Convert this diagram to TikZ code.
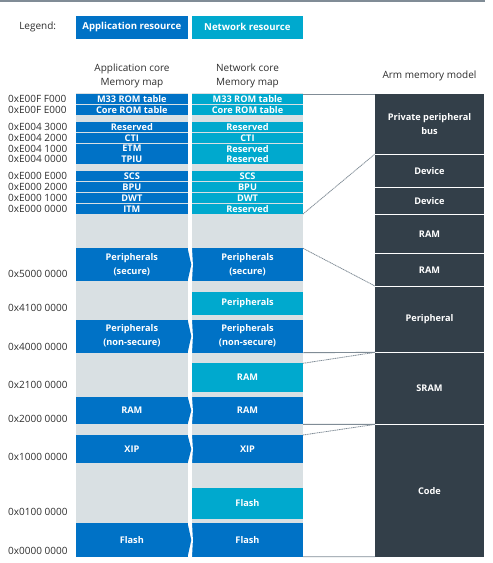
\documentclass[tikz,border=0pt]{standalone}
\usepackage{fontspec}
\usetikzlibrary{calc}
\setmainfont{Open Sans}
\definecolor{appblue}{RGB}{0,114,198}
\definecolor{netblue}{RGB}{0,169,206}
\definecolor{bggray}{RGB}{217,224,227}
\definecolor{armdark}{RGB}{51,63,73}
\definecolor{linegray}{RGB}{128,140,150}
\definecolor{txt}{RGB}{45,45,45}
\tikzset{
  blk/.style={inner sep=0pt, outer sep=0pt, text=white, align=center,
    font=\fontsize{9.2}{14}\selectfont\bfseries},
  addr/.style={anchor=west, inner sep=0pt, text=txt, font=\fontsize{10}{12}\selectfont},
  head/.style={inner sep=0pt, text=txt, align=center, font=\fontsize{10}{14}\selectfont},
  solidlink/.style={draw=linegray, line width=0.9pt},
  dashlink/.style={draw=linegray, line width=0.8pt, dash pattern=on 1.2pt off 0.6pt},
}
% name, x1, y1, x2, y2, colour, text
\newcommand\rbox[7]{\node[blk, fill=#6, minimum width={#4-#2}, minimum height={#5-#3}] (#1) at ({(#2+#4)/2},{(#3+#5)/2}) {#7};}
% app+net chevron pair: appname, netname, y1, y2, text
\newcommand\pairbox[5]{%
  \rbox{#2}{192}{#3}{303}{#4}{appblue}{#5}
  \fill[white] (192,#3) -- (192.9,{(#3+#4)/2}) -- (192,#4) -- cycle;
  \rbox{#1}{76}{#3}{187.7}{#4}{appblue}{#5}
  \fill[appblue] (187.6,#3) -- (191.3,{(#3+#4)/2}) -- (187.6,#4) -- cycle;
}
\begin{document}
\begin{tikzpicture}[x=1pt,y=-1pt]
\useasboundingbox (0,0) rectangle (493,563);
% top rule
\coordinate (tl) at (0,0.8);
\coordinate (tr) at (485,0.8);
\draw[linegray, line width=1.6pt] (tl) -- (tr);
% legend
\node[head, anchor=center] (leg) at (37.7,27) {Legend:};
\rbox{legapp}{76}{16}{187.7}{38.7}{appblue}{\fontsize{9.6}{12}\selectfont\bfseries Application resource}
\rbox{legnet}{192}{16}{302.7}{38.7}{netblue}{\fontsize{9.6}{12}\selectfont\bfseries Network resource}
% headers
\node[head] (happ) at (132,76.3) {Application core\\Memory map};
\node[head] (hnet) at (247.5,76.3) {Network core\\Memory map};
\node[head] (harm) at (429.5,75.7) {Arm memory model};
% gray backgrounds
\fill[bggray] (76,93) rectangle (187.7,556.7);
\fill[bggray] (192,93) rectangle (303,556.7);
% small rows
\rbox{aM33}{76}{94}{187.7}{104.3}{appblue}{M33 ROM table}
\rbox{nM33}{192}{94}{303}{104.3}{netblue}{M33 ROM table}
\rbox{aCore}{76}{105.1}{187.7}{115.3}{appblue}{Core ROM table}
\rbox{nCore}{192}{105.1}{303}{115.3}{netblue}{Core ROM table}
\rbox{aRes}{76}{122}{187.7}{132.2}{appblue}{Reserved}
\rbox{nRes}{192}{122}{303}{132.2}{netblue}{Reserved}
\rbox{aCTI}{76}{133}{187.7}{143}{appblue}{CTI}
\rbox{nCTI}{192}{133}{303}{143}{netblue}{CTI}
\rbox{aETM}{76}{143.7}{187.7}{153.6}{appblue}{ETM}
\rbox{nETM}{192}{143.7}{303}{153.6}{netblue}{Reserved}
\rbox{aTPIU}{76}{154.3}{187.7}{164.4}{appblue}{TPIU}
\rbox{nTPIU}{192}{154.3}{303}{164.4}{netblue}{Reserved}
\rbox{aSCS}{76}{171}{187.7}{181.1}{appblue}{SCS}
\rbox{nSCS}{192}{171}{303}{181.1}{netblue}{SCS}
\rbox{aBPU}{76}{181.9}{187.7}{192}{appblue}{BPU}
\rbox{nBPU}{192}{181.9}{303}{192}{netblue}{BPU}
\rbox{aDWT}{76}{192.8}{187.7}{202.9}{appblue}{DWT}
\rbox{nDWT}{192}{192.8}{303}{202.9}{netblue}{DWT}
\rbox{aITM}{76}{203.7}{187.7}{214}{appblue}{ITM}
\rbox{nITM}{192}{203.7}{303}{214}{netblue}{Reserved}
% big blocks
\pairbox{aPerS}{nPerS}{248.3}{281}{Peripherals\\(secure)}
\rbox{nPerL}{192}{292}{303}{314.7}{netblue}{Peripherals}
\pairbox{aPerN}{nPerN}{319.7}{352.7}{Peripherals\\(non-secure)}
\rbox{nRAMl}{192}{363.3}{303}{391.7}{netblue}{RAM}
\pairbox{aRAM}{nRAM}{396.7}{424.3}{RAM}
\pairbox{aXIP}{nXIP}{435}{463.3}{XIP}
\rbox{nFlashl}{192}{487.7}{303}{518.7}{netblue}{Flash}
\pairbox{aFlash}{nFlash}{523.3}{556.7}{Flash}
% addresses
\node[addr] (ad1) at (8,99.2) {0xE00F F000};
\node[addr] (ad2) at (8,110.2) {0xE00F E000};
\node[addr] (ad3) at (8,127.1) {0xE004 3000};
\node[addr] (ad4) at (8,138) {0xE004 2000};
\node[addr] (ad5) at (8,148.6) {0xE004 1000};
\node[addr] (ad6) at (8,159.3) {0xE004 0000};
\node[addr] (ad7) at (8,176) {0xE000 E000};
\node[addr] (ad8) at (8,187) {0xE000 2000};
\node[addr] (ad9) at (8,197.9) {0xE000 1000};
\node[addr] (ad10) at (8,208.8) {0xE000 0000};
\node[addr] (ad11) at (8,274.3) {0x5000 0000};
\node[addr] (ad12) at (8,307.7) {0x4100 0000};
\node[addr] (ad13) at (8,346.7) {0x4000 0000};
\node[addr] (ad14) at (8,385) {0x2100 0000};
\node[addr] (ad15) at (8,419) {0x2000 0000};
\node[addr] (ad16) at (8,457) {0x1000 0000};
\node[addr] (ad17) at (8,511.7) {0x0100 0000};
\node[addr] (ad18) at (8,550.7) {0x0000 0000};
% Arm memory model
\rbox{ppb}{375}{94}{484}{154}{armdark}{Private peripheral\\bus}
\rbox{dev1}{375}{155}{484}{186.7}{armdark}{Device}
\rbox{dev2}{375}{188}{484}{214}{armdark}{Device}
\rbox{ram1}{375}{215}{484}{252.7}{armdark}{RAM}
\rbox{ram2}{375}{254}{484}{286}{armdark}{RAM}
\rbox{periph}{375}{287.3}{484}{351.7}{armdark}{Peripheral}
\rbox{sram}{375}{353}{484}{423.7}{armdark}{SRAM}
\rbox{code}{375}{425}{484}{556.7}{armdark}{Code}
% connectors
\coordinate (p1) at ($(periph.south west)!0.5!(sram.north west)$);
\coordinate (p2) at ($(sram.south west)!0.5!(code.north west)$);
\draw[solidlink] (nM33.north east) -- (ppb.north west);
\draw[dashlink] (nITM.south east) -- (ppb.south west);
\draw[dashlink] (nPerS.north east) -- (ram2.south west);
\draw[solidlink] (nPerN.south east) -- (p1);
\draw[dashlink] (nRAMl.north east) -- (p1);
\draw[solidlink] (nRAM.south east) -- (p2);
\draw[dashlink] (nXIP.north east) -- (p2);
\draw[solidlink] (nFlash.south east) -- (code.south west);
\end{tikzpicture}
\end{document}
